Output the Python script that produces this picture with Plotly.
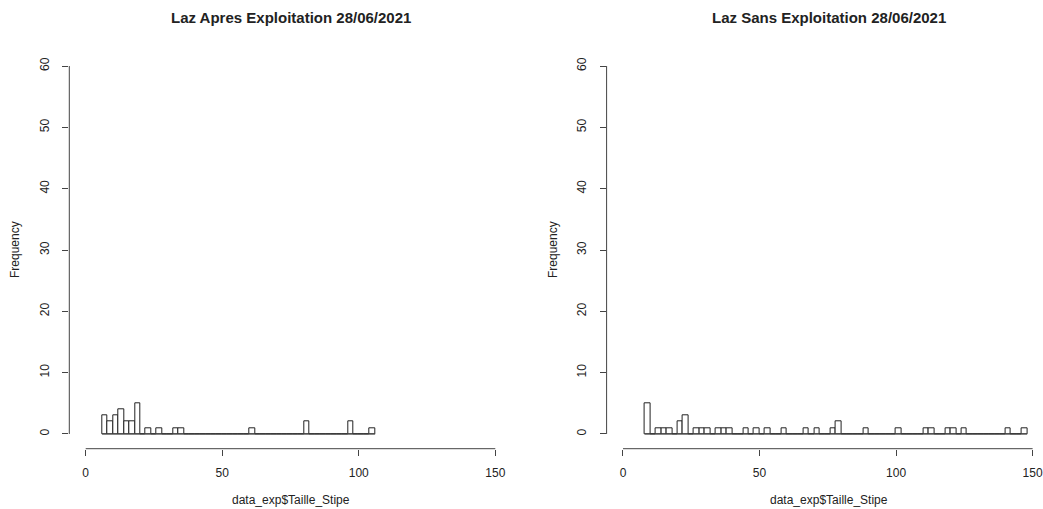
import plotly.graph_objects as go

# ---- data (histogram counts, bin width 2) ----
BIN_WIDTH = 2
bin_start_apres = 6
counts_apres = [3, 2, 3, 4, 2, 2, 5, 0, 1, 0,   # 6..26
                1, 0, 0, 1, 1, 0, 0, 0, 0, 0,   # 26..46
                0, 0, 0, 0, 0, 0, 0, 1, 0, 0,   # 46..66
                0, 0, 0, 0, 0, 0, 0, 2, 0, 0,   # 66..86
                0, 0, 0, 0, 0, 2, 0, 0, 0, 1]   # 86..106

bin_start_sans = 8
counts_sans = [5, 0, 1, 1, 1, 0, 2, 3, 0, 1,    # 8..28
               1, 1, 0, 1, 1, 1, 0, 0, 1, 0,    # 28..48
               1, 0, 1, 0, 0, 1, 0, 0, 0, 1,    # 48..68
               0, 1, 0, 0, 1, 2, 0, 0, 0, 0,    # 68..88
               1, 0, 0, 0, 0, 0, 1, 0, 0, 0,    # 88..108
               0, 1, 1, 0, 0, 1, 1, 0, 1, 0,    # 108..128
               0, 0, 0, 0, 0, 0, 1, 0, 0, 1]    # 128..148

titles = ["Laz Apres Exploitation 28/06/2021", "Laz Sans Exploitation 28/06/2021"]
x_label = "data_exp$Taille_Stipe"
y_label = "Frequency"
x_ticks = [0, 50, 100, 150]
y_ticks = [0, 10, 20, 30, 40, 50, 60]

FONT = "Liberation Sans, Arial, sans-serif"
INK = "#222222"
LINE = "#444444"
W, H = 1043, 509

fig = go.Figure()

panels = [
    (bin_start_apres, counts_apres, "x", "y"),
    (bin_start_sans, counts_sans, "x2", "y2"),
]
for start, counts, xa, ya in panels:
    centers = [start + BIN_WIDTH * (i + 0.5) for i in range(len(counts))]
    fig.add_trace(go.Bar(
        x=centers, y=counts, width=BIN_WIDTH,
        marker=dict(color="white", line=dict(color=INK, width=1)),
        xaxis=xa, yaxis=ya, showlegend=False, hoverinfo="x+y",
    ))
    # baseline of the histogram (zero-count bins)
    fig.add_trace(go.Scatter(
        x=[start, start + BIN_WIDTH * len(counts)], y=[0, 0], mode="lines",
        line=dict(color=LINE, width=1), xaxis=xa, yaxis=ya,
        showlegend=False, hoverinfo="skip",
    ))

# pixel geometry -> paper fractions
y_dom = [1 - 448.7 / H, 1 - 51.3 / H]
x_dom_left = [69.3 / W, 511.7 / W]
x_dom_right = [606.6 / W, 1.0]

axis_common = dict(
    showgrid=False, zeroline=False, showline=False,
    ticks="outside", ticklen=6, tickwidth=1, tickcolor=LINE,
    tickfont=dict(family=FONT, size=12, color=INK),
)

fig.update_layout(
    width=W, height=H,
    margin=dict(l=0, r=0, t=0, b=0),
    paper_bgcolor="white", plot_bgcolor="white",
    bargap=0,
    xaxis=dict(domain=x_dom_left, range=[-6, 156], anchor="y",
               tickvals=x_ticks, ticklabelstandoff=7, **axis_common),
    yaxis=dict(domain=y_dom, range=[-2.4, 62.4], anchor="x",
               tickvals=y_ticks, tickangle=-90, ticklabelstandoff=9, **axis_common),
    xaxis2=dict(domain=x_dom_right, range=[-6, 153.8], anchor="y2",
                tickvals=x_ticks, ticklabelstandoff=7, **axis_common),
    yaxis2=dict(domain=y_dom, range=[-2.4, 62.4], anchor="x2",
                tickvals=y_ticks, tickangle=-90, ticklabelstandoff=9, **axis_common),
)

# R-style axis lines spanning only first to last tick
for xa, ya in [("x", "y"), ("x2", "y2")]:
    fig.add_shape(type="line", xref=xa, yref=ya + " domain",
                  x0=x_ticks[0], x1=x_ticks[-1], y0=0, y1=0,
                  line=dict(color=LINE, width=1))
    fig.add_shape(type="line", xref=xa + " domain", yref=ya,
                  x0=0, x1=0, y0=y_ticks[0], y1=y_ticks[-1],
                  line=dict(color=LINE, width=1))

# titles and axis labels
centers_px = [290.5, 828.5]
freq_px = [15, 553]
for i in range(2):
    fig.add_annotation(text="<b>%s</b>" % titles[i], xref="paper", yref="paper",
                       x=centers_px[i] / W, y=1 - 17 / H, showarrow=False,
                       xanchor="center", yanchor="middle",
                       font=dict(family=FONT, size=15, color=INK))
    fig.add_annotation(text=x_label, xref="paper", yref="paper",
                       x=centers_px[i] / W, y=1 - 500 / H, showarrow=False,
                       xanchor="center", yanchor="middle",
                       font=dict(family=FONT, size=12, color=INK))
    fig.add_annotation(text=y_label, xref="paper", yref="paper",
                       x=freq_px[i] / W, y=1 - 250 / H, showarrow=False,
                       textangle=-90, xanchor="center", yanchor="middle",
                       font=dict(family=FONT, size=12, color=INK))

fig.write_html("out.html",
               config={"displayModeBar": False},
               post_script="document.body.style.margin='0px';"
                           "document.body.style.overflow='hidden';")
